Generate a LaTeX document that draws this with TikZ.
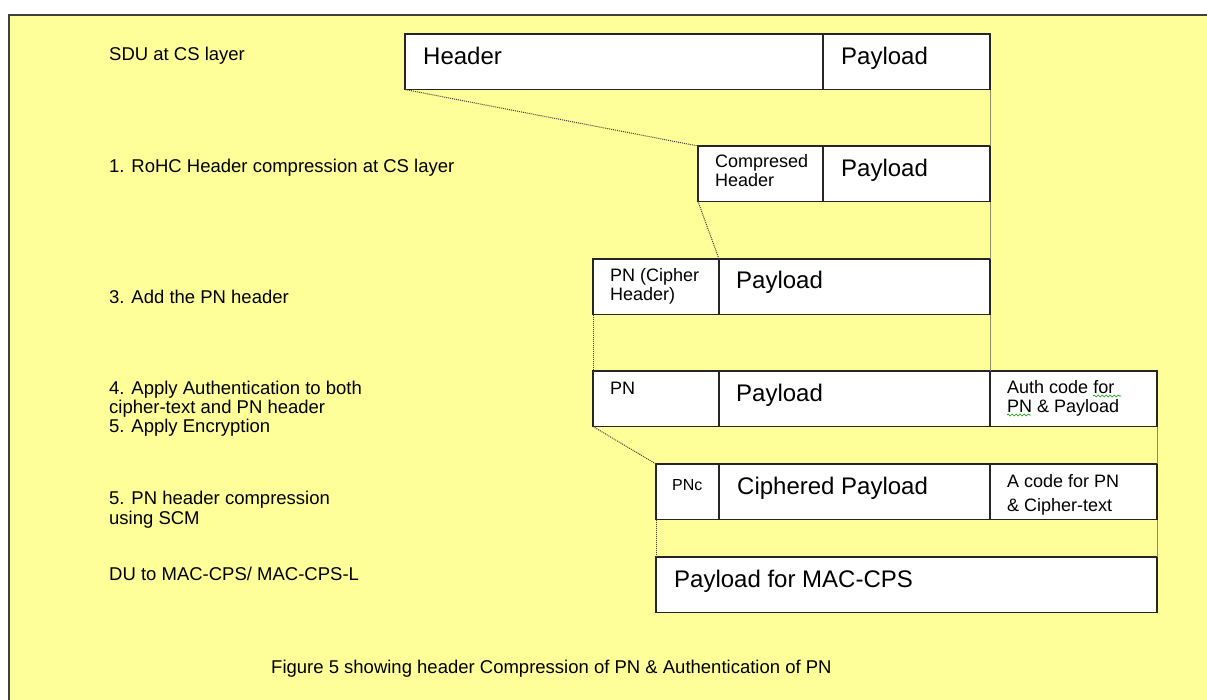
\documentclass[tikz,border=0pt]{standalone}
\usepackage{fontspec}
\setmainfont{Liberation Sans}
\usepackage{xcolor}
\usetikzlibrary{positioning,decorations.pathmorphing}
\definecolor{notepad}{HTML}{FFFF99}
\definecolor{framegray}{HTML}{404040}
\definecolor{guideline}{RGB}{140,140,100}

\begin{document}
\begin{tikzpicture}[
  x=1pt,y=-1pt,
  cell/.style={draw=black!85,line width=1.4pt,fill=white,minimum height=55.5pt,inner sep=0pt,outer sep=0pt,anchor=north west},
  bigtext/.style={font=\fontsize{24}{28}\selectfont,anchor=base west,inner sep=0pt},
  smalltext/.style={font=\fontsize{18}{19}\selectfont,align=left,anchor=base west,inner sep=0pt},
  steptext/.style={font=\fontsize{18.5}{19.3}\selectfont,align=left,anchor=base west,inner sep=0pt},
  dotlink/.style={line width=1pt,dash pattern=on 1pt off 1pt,draw=black!75},
  sideline/.style={line width=0.9pt,draw=guideline},
  squiggle/.style={draw=green!60!black,line width=0.6pt,decorate,decoration={snake,segment length=4pt,amplitude=1pt}}
]
\useasboundingbox (0,0) rectangle (1207,699);
\draw[draw=framegray,line width=2pt,fill=notepad] (9,15) rectangle (1225,720);

\node[cell,minimum width=418pt] (hdr) at (405,34) {};
\node[cell,minimum width=167pt,right=0pt of hdr] (pay0) {};
\node[cell,minimum width=125pt] (chdr) at (698,146) {};
\node[cell,minimum width=167pt,right=0pt of chdr] (pay1) {};
\node[cell,minimum width=126pt] (pnh) at (593,259) {};
\node[cell,minimum width=271pt,right=0pt of pnh] (pay2) {};
\node[cell,minimum width=126pt] (pn) at (593,371) {};
\node[cell,minimum width=271pt,right=0pt of pn] (pay3) {};
\node[cell,minimum width=167pt,right=0pt of pay3] (auth) {};
\node[cell,minimum width=63pt] (pnc) at (656,464) {};
\node[cell,minimum width=271pt,right=0pt of pnc] (cpay) {};
\node[cell,minimum width=167pt,right=0pt of cpay] (acode) {};
\node[cell,minimum width=501pt] (mac) at (656,557) {};

\node[bigtext] (hdrtxt) at ([shift={(18,30)}]hdr.north west) {Header};
\node[bigtext] (pay0txt) at ([shift={(18,30)}]pay0.north west) {Payload};
\node[smalltext] (chdrtxt) at ([shift={(17,40.5)}]chdr.north west) {Compresed\\Header};
\node[bigtext] (pay1txt) at ([shift={(18,30)}]pay1.north west) {Payload};
\node[smalltext] (pnhtxt) at ([shift={(17,41.5)}]pnh.north west) {PN (Cipher\\Header)};
\node[bigtext] (pay2txt) at ([shift={(17,29.5)}]pay2.north west) {Payload};
\node[smalltext] (pntxt) at ([shift={(17,23.5)}]pn.north west) {PN};
\node[bigtext] (pay3txt) at ([shift={(17,30)}]pay3.north west) {Payload};
\node[smalltext] (authtxt) at ([shift={(17,41)}]auth.north west) {Auth code for\\PN \& Payload};
\node[smalltext,font=\fontsize{16}{19}\selectfont] (pnctxt) at ([shift={(16,26)}]pnc.north west) {PNc};
\node[bigtext] (cpaytxt) at ([shift={(18,30)}]cpay.north west) {Ciphered Payload};
\node[smalltext] (acodetxt) at ([shift={(17,47)}]acode.north west) {A code for PN\\[5pt]\& Cipher-text};
\node[bigtext] (mactxt) at ([shift={(18,30)}]mac.north west) {Payload for MAC-CPS};

\node[steptext] (sdu) at (109,60.7) {SDU at CS layer};
\node[steptext] (rohc) at (109,172.7) {1. RoHC Header compression at CS layer};
\node[steptext] (addpn) at (109,303) {3. Add the PN header};
\node[steptext] (authstep) at (109,432.7) {4. Apply Authentication to both\\cipher-text and PN header\\5. Apply Encryption};
\node[steptext] (scm) at (109,524) {5. PN header compression\\using SCM};
\node[steptext] (du) at (109,580) {DU to MAC-CPS/ MAC-CPS-L};
\node[steptext] (caption) at (271,673) {Figure 5 showing header Compression of PN \& Authentication of PN};

\draw[dotlink] (hdr.south west) -- (chdr.north west);
\draw[dotlink] (chdr.south west) -- (pay2.north west);
\draw[dotlink] (pnh.south west) -- (pn.north west);
\draw[dotlink] (pn.south west) -- (pnc.north west);
\draw[dotlink] (pnc.south west) -- (mac.north west);
\draw[sideline] (pay0.south east) -- (pay1.north east);
\draw[sideline] (pay1.south east) -- (pay2.north east);
\draw[sideline] (pay2.south east) -- (pay3.north east);
\draw[sideline] (auth.south east) -- (acode.north east);
\draw[sideline] (acode.south east) -- (mac.north east);

\draw[squiggle] (1093,396) -- (1121,396);
\draw[squiggle] (1007,415) -- (1031,415);
\end{tikzpicture}
\end{document}
